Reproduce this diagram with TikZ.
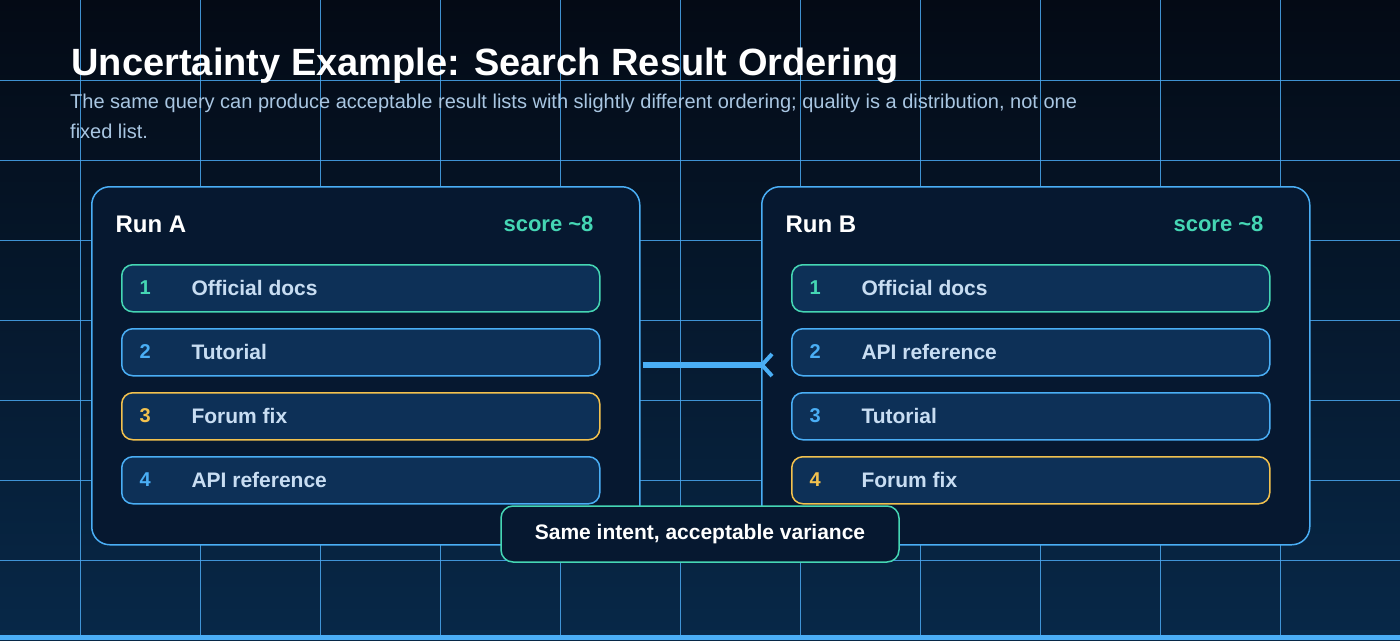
\documentclass[tikz,border=0pt]{standalone}
\usepackage{fontspec}
\setmainfont{Liberation Sans}
\definecolor{bgtop}{HTML}{040A15}
\definecolor{bgbot}{HTML}{072848}
\definecolor{gridc}{HTML}{4AA8F0}
\definecolor{panel}{HTML}{061830}
\definecolor{itemf}{HTML}{0D3057}
\definecolor{blu}{HTML}{4AAEF5}
\definecolor{teal}{HTML}{45D6B4}
\definecolor{yel}{HTML}{F2C14E}
\definecolor{txt}{HTML}{C8DDF2}
\definecolor{sub}{HTML}{A9C6E2}
\begin{document}
\begin{tikzpicture}[x=1pt,y=-1pt,
  panelbox/.style={draw=blu,line width=1.5pt,fill=panel,rounded corners=18pt},
  itembox/.style={draw=#1,line width=1.5pt,fill=itemf,rounded corners=11pt},
  numtxt/.style={anchor=west,font=\fontsize{20}{24}\selectfont\bfseries,text=#1},
  itemtxt/.style={anchor=west,font=\fontsize{21}{25}\selectfont\bfseries,text=txt},
  headtxt/.style={anchor=west,font=\fontsize{24}{28}\selectfont\bfseries,text=white},
  scoretxt/.style={anchor=east,font=\fontsize{22}{26}\selectfont\bfseries,text=teal}]
\shade[top color=bgtop,bottom color=bgbot] (0,0) rectangle (1400,640);
\useasboundingbox (0,0) rectangle (1400,640);
\foreach \x in {80,200,...,1280} \draw[gridc,line width=0.9pt,opacity=0.85] (\x,0) -- (\x,640);
\foreach \y in {80,160,...,560} \draw[gridc,line width=0.9pt,opacity=0.85] (0,\y) -- (1400,\y);
\fill[blu] (0,635) rectangle (1400,640);
\node[anchor=west,font=\fontsize{38}{44}\selectfont\bfseries,text=white] (title) at (68,66) {Uncertainty Example: Search Result Ordering};
\node[anchor=north west,align=left,font=\fontsize{20}{30}\selectfont,text=sub,inner sep=0pt] (subt) at (70,94) {The same query can produce acceptable result lists with slightly different ordering; quality is a distribution, not one\\fixed list.};
% panels
\node[panelbox,minimum width=548pt,minimum height=358pt,anchor=north west] (pA) at (91,186) {};
\node[panelbox,minimum width=548pt,minimum height=358pt,anchor=north west] (pB) at (761,186) {};
\node[headtxt] (hA) at (112,224) {Run A};
\node[scoretxt] (sA) at (597,224) {score \textasciitilde8};
\node[headtxt] (hB) at (782,224) {Run B};
\node[scoretxt] (sB) at (1267,224) {score \textasciitilde8};
\foreach \i/\c/\t [count=\k] in {1/teal/Official docs,2/blu/Tutorial,3/yel/Forum fix,4/blu/API reference}{
  \pgfmathsetmacro{\yy}{264+64*(\k-1)}
  \node[itembox=\c,minimum width=478pt,minimum height=47pt,anchor=north west] (a\k) at (121,\yy) {};
  \node[numtxt=\c] (an\k) at (136,\yy+24) {\i};
  \node[itemtxt] (at\k) at (188,\yy+24) {\t};
}
\foreach \i/\c/\t [count=\k] in {1/teal/Official docs,2/blu/API reference,3/blu/Tutorial,4/yel/Forum fix}{
  \pgfmathsetmacro{\yy}{264+64*(\k-1)}
  \node[itembox=\c,minimum width=478pt,minimum height=47pt,anchor=north west] (b\k) at (791,\yy) {};
  \node[numtxt=\c] (bn\k) at (806,\yy+24) {\i};
  \node[itemtxt] (bt\k) at (858,\yy+24) {\t};
}
% connector
\coordinate (tipA) at (762,365);
\draw[blu,line width=6pt] (pA.east |- tipA) ++(2,0) -- (tipA);
\draw[blu,line width=4pt,line cap=butt] (772,354) -- (tipA) -- (772,376);
% callout
\node[draw=teal,line width=1.5pt,fill=panel,rounded corners=12pt,minimum width=398pt,minimum height=56pt,font=\fontsize{21}{25}\selectfont\bfseries,text=white] (call) at (700,534) {Same intent, acceptable variance};
\end{tikzpicture}
\end{document}
